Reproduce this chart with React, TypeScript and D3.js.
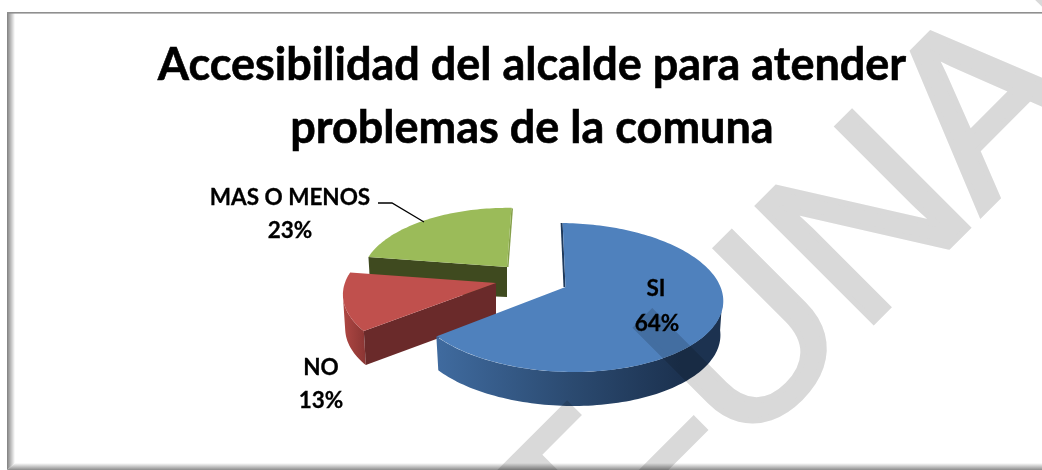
import React from "react";
import * as d3 from "d3";

const W = 1042, H = 470;
const categories = ["SI", "NO", "MAS O MENOS"];
const values = [64, 13, 23];
const percentLabels = ["64%", "13%", "23%"];
const topColors = ["#4f81bd", "#c0504d", "#9bbb59"];
const titleLines = ["Accesibilidad del alcalde para atender", "problemas de la comuna"];
const watermark = "UNA";

const FONT = "Lato, Carlito, 'Liberation Sans', sans-serif";
const R = 155, RY = 73, Q = 0.141, DEPTH = 34;
const ROT = 0.026;
const sliceGeom = [
  { ax: 565, ay: 287, scale: 1, lean: 0.1 },
  { ax: 496, ay: 283, scale: 0.975, lean: -0.04 },
  { ax: 507, ay: 267, scale: 0.925, lean: -0.02 },
];

function project(g: any, t: number, rf = 1, depth = 0) {
  const s = Math.sin(t), c = Math.cos(t);
  const f = 1 / (1 + Q * c * rf);
  const dy = -RY * c * f * g.scale * rf;
  const x = g.ax + R * s * f * g.scale * rf + g.lean * dy;
  const y = g.ay + dy;
  const shrink = depth ? 0.985 : 1;
  return [g.ax + (x - g.ax) * shrink, y + depth] as [number, number];
}
function arcPts(g: any, a: number, b: number, depth = 0) {
  const n = Math.max(2, Math.ceil(Math.abs(b - a) * 40));
  return d3.range(n + 1).map((i) => project(g, a + ((b - a) * i) / n, 1, depth));
}
const line = d3.line();

export default function App() {
  const arcs = d3.pie<number>().sort(null).startAngle(ROT).endAngle(Math.PI * 2 + ROT)(values);
  const si = arcs[0], no = arcs[1], mas = arcs[2];
  const [gS, gN, gM] = sliceGeom;
  const apex = (g: any, depth = 0) => [g.ax, g.ay + depth] as [number, number];
  const face = (g: any, a: any) => line([apex(g), ...arcPts(g, a.startAngle, a.endAngle)]) + "Z";

  const siVisStart = Math.PI * 0.54;
  const siWall = line([...arcPts(gS, siVisStart, si.endAngle), ...arcPts(gS, si.endAngle, siVisStart, DEPTH)]) + "Z";
  const noVisEnd = no.startAngle + (no.endAngle - no.startAngle) * 0.58;
  const noWall = line([...arcPts(gN, no.startAngle, noVisEnd), ...arcPts(gN, noVisEnd, no.startAngle, DEPTH)]) + "Z";
  const noInner = line([apex(gN), project(gN, no.startAngle), project(gN, no.startAngle, 1, DEPTH), apex(gN, DEPTH)]) + "Z";
  const masLeft = project(gM, mas.startAngle), masRight = project(gM, mas.endAngle);
  const masInner = line([apex(gM), masLeft, project(gM, mas.startAngle, 1, DEPTH), apex(gM, DEPTH - 4)]) + "Z";
  const masFront = line([apex(gM), masRight, [masRight[0] + 1.5, masRight[1] + 1], [gM.ax + 1.5, gM.ay]]) + "Z";

  return (
    <svg width={W} height={H} style={{ position: "fixed", left: 0, top: 0, display: "block" }}>
      <defs>
        <linearGradient id="siG" gradientUnits="userSpaceOnUse" x1={440} x2={680} y1={0} y2={0}>
          <stop offset="0" stopColor="#3f6a9e" />
          <stop offset="0.55" stopColor="#2b4a70" />
          <stop offset="1" stopColor="#1c3250" />
        </linearGradient>
        <linearGradient id="noG" gradientUnits="userSpaceOnUse" x1={342} x2={366} y1={0} y2={0}>
          <stop offset="0" stopColor="#b04844" />
          <stop offset="1" stopColor="#8a3533" />
        </linearGradient>
        <linearGradient id="bevL" x1="0" x2="1" y1="0" y2="0">
          <stop offset="0" stopColor="#7f7f7f" />
          <stop offset="1" stopColor="#ffffff" />
        </linearGradient>
        <linearGradient id="bevB" x1="0" x2="0" y1="0" y2="1">
          <stop offset="0" stopColor="#ffffff" />
          <stop offset="1" stopColor="#8c8c8c" />
        </linearGradient>
      </defs>
      <rect width={W} height={H} fill="#fff" />
      {/* frame */}
      <path d={`M7,${H}H${W}V463H15Z`} fill="url(#bevB)" />
      <path d="M7,12H15V20V463L7,470Z" fill="url(#bevL)" />
      <rect x={7} y={12} width={W} height={1.6} fill="#8f8f8f" />

      {/* title */}
      <g fontFamily={FONT} fontWeight={700} fontSize={45} textAnchor="middle" fill="#000" stroke="#000" strokeWidth={0.6}>
        <text x={532} y={80}>{titleLines[0]}</text>
        <text x={532} y={143}>{titleLines[1]}</text>
      </g>

      {/* green */}
      <path d={masInner} fill="#3f4a1f" />
      <path d={masFront} fill="#85a04a" />
      <path d={face(gM, mas)} fill={topColors[2]} />
      {/* red */}
      <path d={noWall} fill="url(#noG)" />
      <path d={noInner} fill="#6a2a2a" />
      <path d={face(gN, no)} fill={topColors[1]} />
      {/* blue */}
      <path d={siWall} fill="url(#siG)" />
      <path d={line([project(gS, si.startAngle), apex(gS)]) as string} stroke="#1f3a5c" strokeWidth={2} transform="translate(-0.5,0)" fill="none" />
      <path d={face(gS, si)} fill={topColors[0]} transform="translate(0.5,0)" />

      {/* leader */}
      <path d="M378,203H392L424,222" fill="none" stroke="#000" strokeWidth={1.3} />

      {/* labels */}
      <g fontFamily={FONT} fontWeight={700} fontSize={22.5} textAnchor="middle" fill="#000" stroke="#000" strokeWidth={0.3}>
        <text x={656} y={296}>{categories[0]}</text>
        <text x={657} y={331}>{percentLabels[0]}</text>
        <text x={321} y={375}>{categories[1]}</text>
        <text x={321} y={408}>{percentLabels[1]}</text>
        <text x={290} y={205}>{categories[2]}</text>
        <text x={290} y={238}>{percentLabels[2]}</text>
      </g>

      {/* watermark */}
      <g style={{ mixBlendMode: "multiply", isolation: "isolate" }} fill="#d9d9d9" stroke="#d9d9d9">
        <text
          transform="translate(739,456) rotate(-45)"
          fontFamily="'Liberation Sans', sans-serif"
          fontSize={237}
          strokeWidth={6}
          strokeLinejoin="miter"
        >
          {watermark}
        </text>
        <g transform="rotate(-45)" stroke="none">
          <path d="M0,684H118V705H62V760H0Z" />
          <path d="M100,784H197V805H100Z" />
          <path d="M732,700H800V760H732Z" />
        </g>
      </g>
    </svg>
  );
}
